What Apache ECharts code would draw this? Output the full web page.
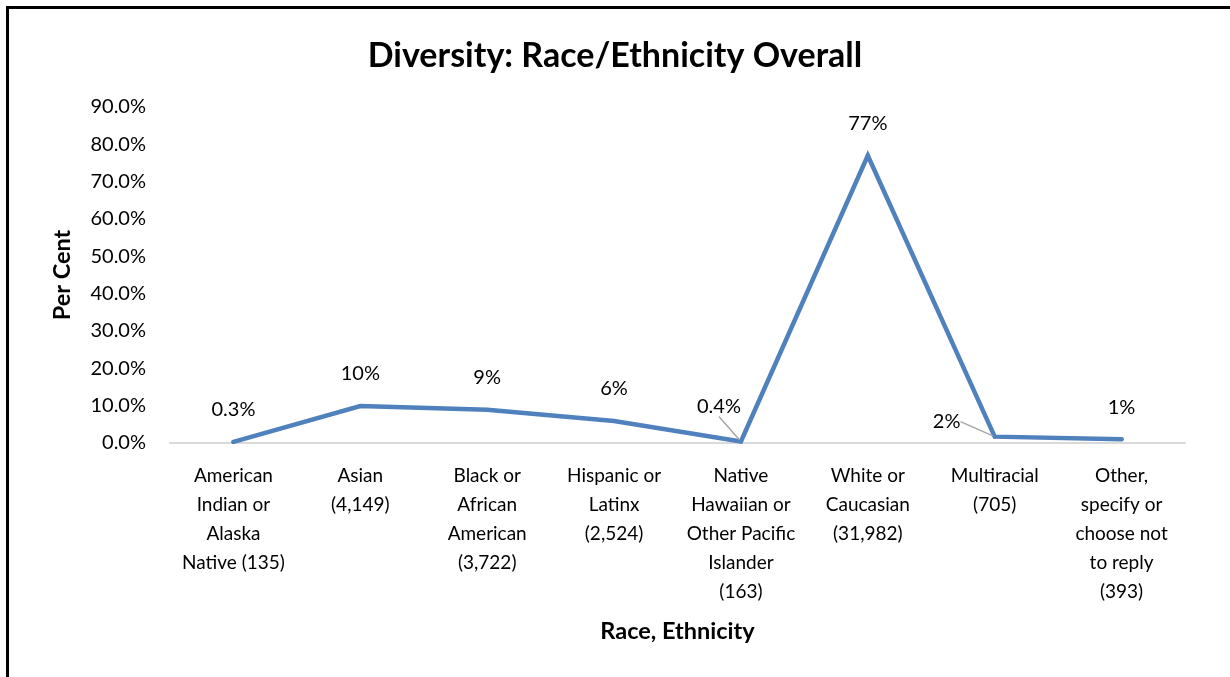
<!DOCTYPE html>
<html>
<head>
<meta charset="utf-8">
<script src="https://cdn.jsdelivr.net/npm/echarts@6/dist/echarts.min.js"></script>
<style>
  html, body { margin: 0; padding: 0; background: #fff; overflow: hidden; }
  #frame { position: absolute; left: 6px; top: 6px; width: 1300px; height: 760px; border: 3px solid #000; box-sizing: border-box; }
  #chart { position: absolute; left: 0; top: 0; width: 1230px; height: 677px; }
</style>
</head>
<body>
<div id="frame"></div>
<div id="chart"></div>
<script>
const categories = [
  'American\nIndian or\nAlaska\nNative (135)',
  'Asian\n(4,149)',
  'Black or\nAfrican\nAmerican\n(3,722)',
  'Hispanic or\nLatinx\n(2,524)',
  'Native\nHawaiian or\nOther Pacific\nIslander\n(163)',
  'White or\nCaucasian\n(31,982)',
  'Multiracial\n(705)',
  'Other,\nspecify or\nchoose not\nto reply\n(393)'
];
const percentValues = [0.3, 9.9, 8.9, 5.9, 0.4, 77.0, 1.7, 1.0];
const yTicks = { min: 0, max: 90, interval: 10 };
const titleText = 'Diversity: Race/Ethnicity Overall';
const xName = 'Race, Ethnicity';
const yName = 'Per Cent';

const FONT = 'Lato';
const chart = echarts.init(document.getElementById('chart'), null, { renderer: 'canvas' });

function fmtLabel(v) {
  return (v < 1 ? v.toFixed(1) : Math.round(v).toString()) + '%';
}
// labels moved off their point get a leader line
const movedLabels = { 4: [-22, -3], 6: [-48, 17] };

const seriesData = percentValues.map((v, i) => (
  movedLabels[i] ? { value: v, labelLine: { show: true } } : { value: v }
));

chart.setOption({
  animation: false,
  backgroundColor: 'transparent',
  title: {
    text: titleText,
    left: 'center',
    top: 34,
    textStyle: { fontFamily: FONT, fontSize: 34, fontWeight: 'bold', color: '#000' }
  },
  grid: { left: 170, right: 45, top: 107, bottom: 234, containLabel: false },
  xAxis: {
    type: 'category',
    data: categories,
    boundaryGap: true,
    name: xName,
    nameLocation: 'middle',
    nameGap: 176,
    nameTextStyle: { fontFamily: FONT, fontSize: 23.5, fontWeight: 'bold', color: '#000' },
    axisLine: { show: true, lineStyle: { color: '#d9d9d9', width: 2 } },
    axisTick: { show: false },
    axisLabel: {
      interval: 0,
      margin: 18,
      fontFamily: FONT, fontSize: 19, color: '#000',
      lineHeight: 29, align: 'center'
    },
    splitLine: { show: false }
  },
  yAxis: {
    type: 'value',
    min: yTicks.min, max: yTicks.max, interval: yTicks.interval,
    name: yName,
    nameLocation: 'middle',
    nameGap: 96,
    nameRotate: 90,
    nameTextStyle: { fontFamily: FONT, fontSize: 23.5, fontWeight: 'bold', color: '#000' },
    axisLine: { show: false },
    axisTick: { show: false },
    splitLine: { show: false },
    axisLabel: {
      margin: 24,
      fontFamily: FONT, fontSize: 20, color: '#000',
      formatter: v => v.toFixed(1) + '%'
    }
  },
  series: [{
    type: 'line',
    data: seriesData,
    showSymbol: true,
    symbol: 'circle',
    symbolSize: 4,
    itemStyle: { color: '#4f81bd' },
    lineStyle: { color: '#4f81bd', width: 4.5, cap: 'round', join: 'miter' },
    label: {
      show: true,
      position: 'top',
      distance: 20,
      fontFamily: FONT, fontSize: 20, color: '#000',
      formatter: p => fmtLabel(p.value)
    },
    labelLine: { show: false, lineStyle: { color: '#a6a6a6', width: 1.5 } },
    labelLayout: function (params) {
      const m = movedLabels[params.dataIndex];
      return m ? { dx: m[0], dy: m[1] } : {};
    }
  }]
});
</script>
</body>
</html>
